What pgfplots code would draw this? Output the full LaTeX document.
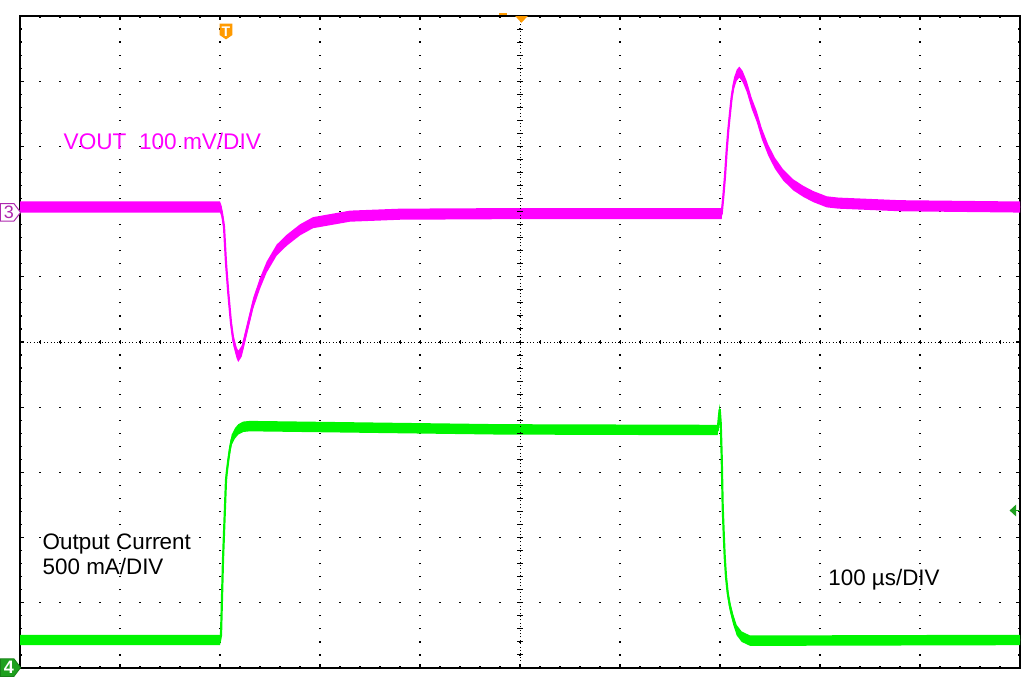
\documentclass[border=0pt]{standalone}
\usepackage{pgfplots}
\pgfplotsset{compat=1.18}
\usepackage{pgfplotstable}
\usepgfplotslibrary{fillbetween}
\usepackage{fontspec}
\setmainfont{Liberation Sans}
\definecolor{vmag}{RGB}{255,0,255}
\definecolor{igreen}{RGB}{0,245,0}
\definecolor{chpurple}{RGB}{175,40,175}
\definecolor{chgreen}{RGB}{30,160,30}
\definecolor{trigorange}{RGB}{255,154,0}

\pgfplotstableread{
x y
0 2.07
2.0 2.07
2.017 2.00
2.04 1.77
2.06 1.21
2.083 0.75
2.11 0.29
2.133 0.03
2.167 -0.17
2.183 -0.22
2.217 -0.14
2.267 0.18
2.333 0.60
2.40 0.90
2.467 1.15
2.567 1.41
2.667 1.56
2.80 1.72
2.93 1.83
3.3 1.93
3.8 1.96
5.0 1.97
6.99 1.97
7.017 1.97
7.033 2.23
7.05 2.54
7.067 2.94
7.083 3.25
7.10 3.51
7.117 3.76
7.14 3.97
7.167 4.09
7.193 4.14
7.227 4.07
7.267 3.92
7.317 3.66
7.367 3.46
7.417 3.20
7.483 2.94
7.55 2.74
7.633 2.56
7.733 2.41
7.833 2.31
7.933 2.23
8.067 2.15
8.183 2.13
8.8 2.09
10 2.07
}\vout

\pgfplotstableread{
x y
0 -4.57
2.0 -4.57
2.01 -4.50
2.03 -3.34
2.06 -2.12
2.067 -2.01
2.083 -1.81
2.10 -1.63
2.117 -1.50
2.15 -1.40
2.183 -1.34
2.233 -1.30
2.30 -1.29
2.8 -1.30
4.8 -1.34
6.977 -1.35
6.987 -1.18
6.997 -1.03
7.007 -1.24
7.017 -1.76
7.027 -2.53
7.037 -2.93
7.047 -3.29
7.06 -3.60
7.077 -3.85
7.10 -4.06
7.133 -4.26
7.167 -4.42
7.217 -4.52
7.30 -4.58
7.533 -4.58
10 -4.57
}\iout

\begin{document}
\begin{tikzpicture}
% dense centre lines (drawn first, below the traces)
\draw[black, line width=0.5pt, dash pattern=on 0.5pt off 1.2pt] (250pt,0pt) -- (250pt,326pt);
\draw[black, line width=0.5pt, dash pattern=on 0.5pt off 1.2pt] (0pt,163pt) -- (500pt,163pt);
\foreach \k in {0,...,50} {
  \draw[black, line width=0.5pt] (248.6pt,\k*6.52pt) -- ++(2.8pt,0);
  \draw[black, line width=0.5pt] (\k*10pt,161.8pt) -- ++(0,2.4pt);
}
\begin{axis}[
  at={(0,0)}, anchor=south west,
  scale only axis, width=500pt, height=326pt,
  xmin=0, xmax=10, ymin=-5, ymax=5,
  xtick={0,...,10}, ytick={-5,...,5},
  minor x tick num=4, minor y tick num=4,
  xticklabels={}, yticklabels={},
  tick align=inside, major tick length=2pt, minor tick length=1.1pt,
  tick style={black, line width=0.6pt},
  grid=major,
  major x grid style={black, line width=0.6pt, dash pattern=on 0.6pt off 5.92pt, dash phase=0.3pt},
  major y grid style={black, line width=0.6pt, dash pattern=on 0.6pt off 9.4pt, dash phase=0.3pt},
  axis line style={black, line width=1pt},
  clip=false,
]
% VOUT trace (noise band)
\addplot[draw=none, name path=vu, forget plot] table[x=x, y expr=\thisrow{y}+0.085] {\vout};
\addplot[draw=none, name path=vl, forget plot] table[x=x, y expr=\thisrow{y}-0.085] {\vout};
\addplot[fill=vmag, draw=none, forget plot] fill between[of=vu and vl];
\addplot[vmag, line width=1.1pt, forget plot] table[x=x, y=y] {\vout};
% Output current trace (noise band)
\addplot[draw=none, name path=iu, forget plot] table[x=x, y expr=\thisrow{y}+0.08] {\iout};
\addplot[draw=none, name path=il, forget plot] table[x=x, y expr=\thisrow{y}-0.08] {\iout};
\addplot[fill=igreen, draw=none, forget plot] fill between[of=iu and il];
\addplot[igreen, line width=1.1pt, forget plot] table[x=x, y=y] {\iout};

\node[anchor=base west, text=vmag, inner sep=0pt, font=\fontsize{11.3}{12.5}\selectfont]
  at (axis cs:0.433,2.956) {VOUT\ \ 100 mV/DIV};
\node[anchor=base west, text=black, inner sep=0pt, font=\fontsize{11.2}{12.5}\selectfont]
  at (axis cs:0.223,-3.18) {Output Current};
\node[anchor=base west, text=black, inner sep=0pt, font=\fontsize{11.2}{12.5}\selectfont]
  at (axis cs:0.223,-3.563) {500 mA/DIV};
\node[anchor=base west, text=black, inner sep=0pt, font=\fontsize{11.2}{12.5}\selectfont]
  at (axis cs:8.08,-3.74) {100 µs/DIV};
\end{axis}
% channel 3 marker
\draw[chpurple, fill=white, line width=0.5pt] (-9.8pt,223.5pt) -- (-9.8pt,232.2pt) -- (-3pt,232.2pt) -- (0.3pt,227.8pt) -- (-3pt,223.5pt) -- cycle;
\node[text=chpurple, inner sep=0pt, font=\fontsize{9}{9}\selectfont] at (-5.6pt,227.8pt) {3};
% channel 4 marker
\draw[chgreen!80!black, fill=chgreen, line width=0.4pt] (-9.8pt,-4.2pt) -- (-9.8pt,4.6pt) -- (-3pt,4.6pt) -- (0.3pt,0.2pt) -- (-3pt,-4.2pt) -- cycle;
\node[text=white, inner sep=0pt, font=\fontsize{9}{9}\selectfont\bfseries] at (-5.6pt,0.2pt) {4};
% trigger marker
\fill[trigorange] (99.8pt,322.2pt) -- (106.2pt,322.2pt) -- (106.2pt,316.5pt) -- (103pt,314.3pt) -- (99.8pt,316.5pt) -- cycle;
\node[text=white, inner sep=0pt, font=\fontsize{7}{7}\selectfont\bfseries] at (103pt,318.4pt) {T};
% trigger position triangle on top
\fill[trigorange] (247.6pt,326pt) -- (253.9pt,326pt) -- (250.7pt,322.6pt) -- cycle;
\draw[trigorange, line width=0.8pt] (239.5pt,327pt) -- (243.5pt,327pt);
% channel 4 level arrow at right
\fill[chgreen] (494.8pt,78.75pt) -- (498pt,81.7pt) -- (498pt,75.8pt) -- cycle;
\draw[chgreen, line width=0.8pt] (497pt,78.75pt) -- (500pt,78.75pt);
\pgfresetboundingbox
\useasboundingbox (-10pt,-4.5pt) rectangle (502pt,334pt);
\end{tikzpicture}
\end{document}
